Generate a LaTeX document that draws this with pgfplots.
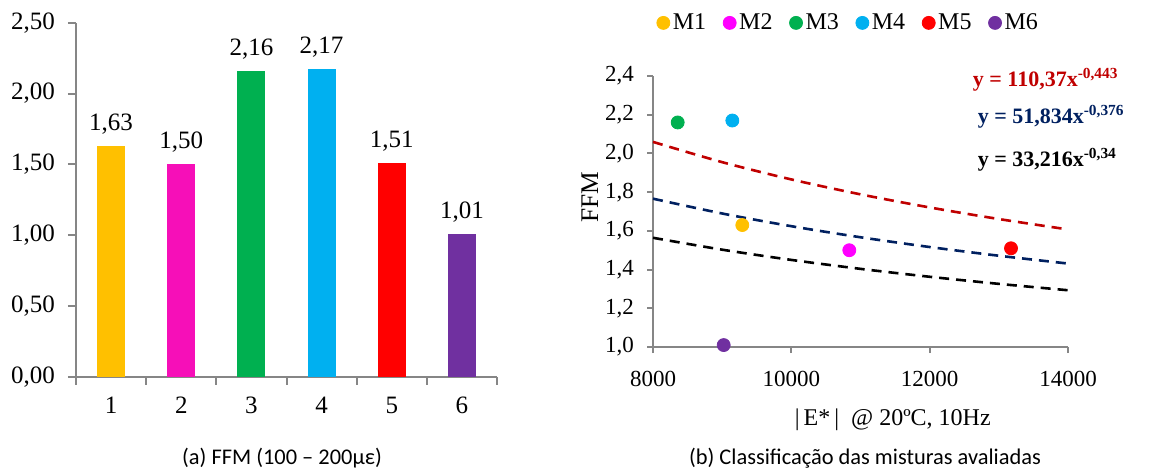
\documentclass[border=0pt]{standalone}
\usepackage{pgfplots}
\pgfplotsset{compat=1.18}
\usepackage{fontspec}
\setmainfont{Liberation Serif}
\newfontfamily\capfont{Carlito}
\definecolor{cM1}{HTML}{FFC000}
\definecolor{cM2bar}{HTML}{F60FB8}
\definecolor{cM2}{HTML}{FF00FF}
\definecolor{cM3}{HTML}{00B050}
\definecolor{cM4}{HTML}{00B0F0}
\definecolor{cM5}{HTML}{FF0000}
\definecolor{cM6}{HTML}{7030A0}
\definecolor{axgray}{HTML}{868686}
\definecolor{tred}{HTML}{C00000}
\definecolor{tblue}{HTML}{002060}
\begin{document}
\begin{tikzpicture}[x=1pt,y=1pt]
\useasboundingbox (0,0) rectangle (586,236);
% ---------------- left: bar chart ----------------
\begin{axis}[
  at={(38pt,47.65pt)}, anchor=south west,
  scale only axis, width=210.5pt, height=177pt,
  xmin=0.5, xmax=6.5, ymin=0, ymax=2.5,
  axis x line*=bottom, axis y line*=left,
  axis line style={draw=axgray, line width=1pt},
  tick align=outside,
  major tick length=4pt, minor tick length=4pt,
  xtick={1,2,3,4,5,6},
  minor xtick={0.5,1.5,2.5,3.5,4.5,5.5,6.5},
  x tick style={draw=none},
  minor x tick style={draw=axgray, line width=1pt},
  y tick style={draw=axgray, line width=1pt},
  ytick={0,0.5,1,1.5,2,2.5},
  /pgf/number format/assume math mode=true,
  yticklabel style={font=\fontsize{12.5}{14}\selectfont, xshift=-3pt,
    /pgf/number format/.cd, fixed, fixed zerofill, precision=2, use comma},
  xticklabel style={font=\fontsize{12.5}{14}\selectfont, yshift=-2.5pt},
  ybar, bar width=14pt, bar shift=0pt,
  nodes near coords,
  every node near coord/.append style={font=\fontsize{12.5}{14}\selectfont, text=black, yshift=2.3pt,
    /pgf/number format/.cd, fixed, fixed zerofill, precision=2, use comma, assume math mode=true},
  clip=false,
]
\addplot[fill=cM1, draw=none] coordinates {(1,1.63)};
\addplot[fill=cM2bar, draw=none] coordinates {(2,1.50)};
\addplot[fill=cM3, draw=none] coordinates {(3,2.16)};
\addplot[fill=cM4, draw=none] coordinates {(4,2.17)};
\addplot[fill=cM5, draw=none] coordinates {(5,1.51)};
\addplot[fill=cM6, draw=none] coordinates {(6,1.01)};
\end{axis}
% ---------------- right: scatter chart ----------------
\begin{axis}[
  at={(326.5pt,62.5pt)}, anchor=south west,
  scale only axis, width=207.5pt, height=135.5pt,
  xmin=8000, xmax=14000, ymin=1.0, ymax=2.4,
  axis x line*=bottom, axis y line*=left,
  axis line style={draw=axgray, line width=1pt},
  tick align=outside, major tick length=3pt,
  tick style={draw=axgray, line width=1pt},
  xtick={8000,10000,12000,14000},
  ytick={1.0,1.2,1.4,1.6,1.8,2.0,2.2,2.4},
  /pgf/number format/assume math mode=true,
  scaled x ticks=false,
  xticklabel style={font=\fontsize{11.5}{13}\selectfont, yshift=-5.5pt,
    /pgf/number format/.cd, fixed, set thousands separator={}},
  yticklabel style={font=\fontsize{11.5}{13}\selectfont, xshift=-3pt,
    /pgf/number format/.cd, fixed, fixed zerofill, precision=1, use comma},
  xlabel={\,|\,E*\,|\ \ @ 20ºC, 10Hz},
  xlabel style={font=\fontsize{12}{14}\selectfont, at={(axis description cs:0.573,-0.269)}, anchor=center},
  ylabel={FFM},
  ylabel style={font=\fontsize{12.7}{14}\selectfont, at={(axis description cs:-0.152,0.553)}, anchor=center},
  legend columns=6,
  legend style={draw=none, fill=none, font=\fontsize{12}{14}\selectfont,
    at={(axis description cs:0.472,1.196)}, anchor=center,
    /tikz/every even column/.append style={column sep=7pt},
    nodes={inner sep=1.5pt}},
  legend image code/.code={\draw[#1] plot coordinates {(0pt,0pt)};},
  clip=false,
]
\addplot[forget plot, tred, dash pattern=on 5pt off 3.5pt, line width=1.3pt, smooth] coordinates {
 (8000,2.0596) (9000,1.9549) (10000,1.8657) (11000,1.7886) (12000,1.7210) (13000,1.6611) (14000,1.6073)};
\addplot[forget plot, tblue, dash pattern=on 5pt off 3.5pt, line width=1.3pt, smooth] coordinates {
 (8000,1.7662) (9000,1.6897) (10000,1.6241) (11000,1.5669) (12000,1.5165) (13000,1.4715) (14000,1.4311)};
\addplot[forget plot, black, dash pattern=on 5pt off 3.5pt, line width=1.3pt, smooth] coordinates {
 (8000,1.5642) (9000,1.5028) (10000,1.4499) (11000,1.4037) (12000,1.3628) (13000,1.3262) (14000,1.2932)};
\addplot[only marks, mark=*, mark size=3.25pt, color=cM1] coordinates {(9291,1.63)};
\addplot[only marks, mark=*, mark size=3.25pt, color=cM2] coordinates {(10838,1.50)};
\addplot[only marks, mark=*, mark size=3.25pt, color=cM3] coordinates {(8357,2.16)};
\addplot[only marks, mark=*, mark size=3.25pt, color=cM4] coordinates {(9147,2.17)};
\addplot[only marks, mark=*, mark size=3.25pt, color=cM5] coordinates {(13176,1.51)};
\addplot[only marks, mark=*, mark size=3.25pt, color=cM6] coordinates {(9022,1.01)};
\legend{M1,M2,M3,M4,M5,M6}
\node[anchor=west, text=tred, font=\fontsize{11}{13}\bfseries\selectfont, inner sep=0pt] at (axis cs:12620,2.379) {y = 110,37x\textsuperscript{-0,443}};
\node[anchor=west, text=tblue, font=\fontsize{11}{13}\bfseries\selectfont, inner sep=0pt] at (axis cs:12690,2.188) {y = 51,834x\textsuperscript{-0,376}};
\node[anchor=west, text=black, font=\fontsize{11}{13}\bfseries\selectfont, inner sep=0pt] at (axis cs:12690,1.965) {y = 33,216x\textsuperscript{-0,34}};
\end{axis}
% captions
\node[font=\capfont\fontsize{11.2}{13}\selectfont] at (141pt,7pt) {(a) FFM (100 – 200με)};
\node[font=\capfont\fontsize{11.2}{13}\selectfont] at (432.5pt,7pt) {(b) Classificação das misturas avaliadas};
\end{tikzpicture}
\end{document}
